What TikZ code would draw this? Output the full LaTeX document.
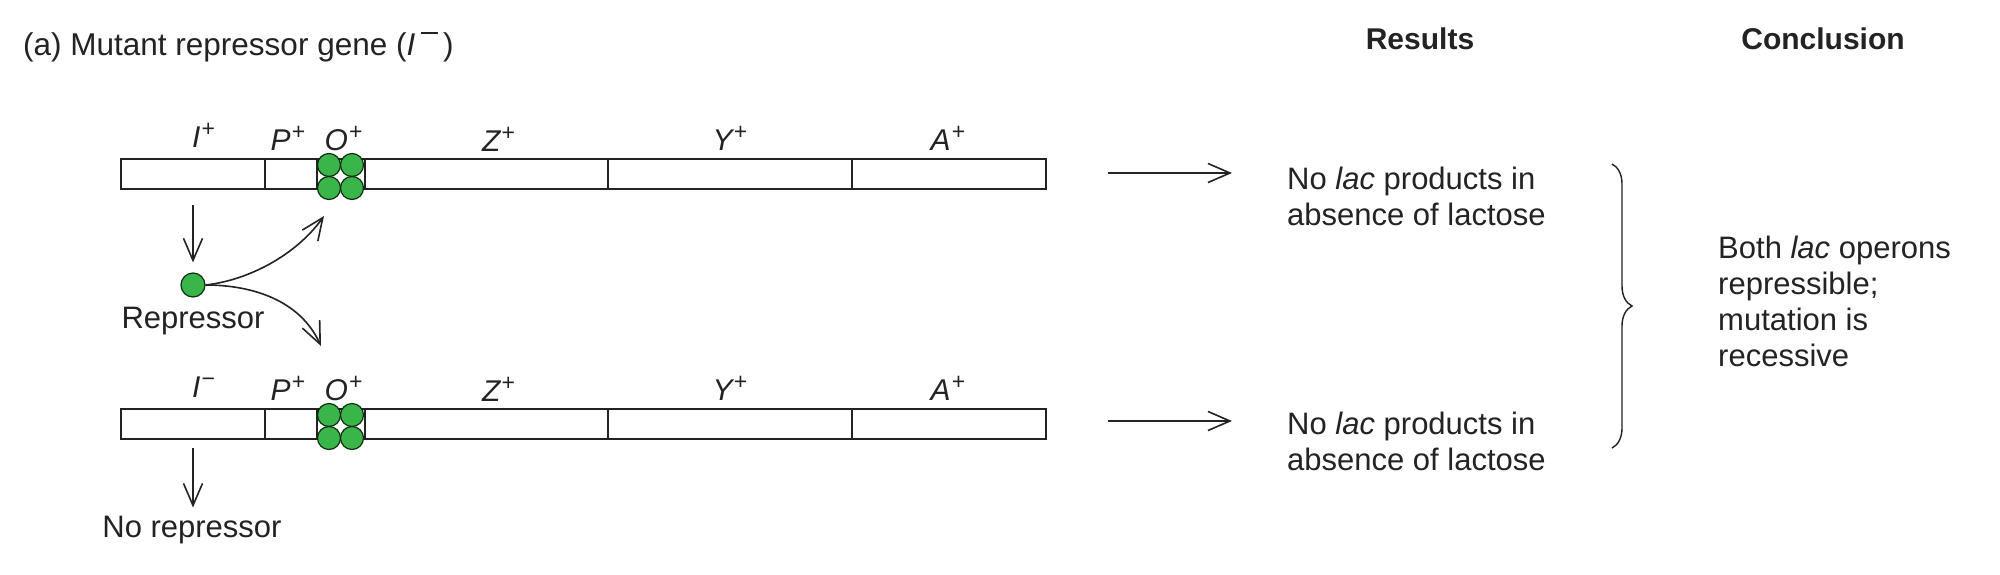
\documentclass[tikz,border=0pt]{standalone}
\usepackage{fontspec}
\setmainfont{Liberation Sans}
\usetikzlibrary{arrows.meta,decorations.pathreplacing}
\definecolor{repgreen}{RGB}{57,181,74}
\definecolor{ink}{RGB}{35,35,35}
\newcommand{\gsup}[1]{\kern0.04em\raisebox{0.36em}{\fontsize{23}{23}\selectfont\upshape #1}}
\begin{document}
\begin{tikzpicture}[x=1pt,y=-1pt,
 seg/.style={draw=ink,line width=1.8pt,fill=white,minimum height=30pt,inner sep=0pt,outer sep=0pt},
 gl/.style={font=\fontsize{30}{32}\selectfont\itshape,text=ink,inner sep=0pt,anchor=base},
 txt/.style={font=\fontsize{31}{36}\selectfont,text=ink,inner sep=0pt},
 hd/.style={font=\fontsize{30}{36}\selectfont\bfseries,text=ink,inner sep=0pt,anchor=base},
 ball/.style={circle,draw=black!75!repgreen,line width=1.2pt,fill=repgreen,minimum size=23pt,inner sep=0pt},
 arr/.style={draw=ink,line width=1.6pt,-{Straight Barb[length=22pt,width=19pt,line width=1.6pt]}},
]
\useasboundingbox[fill=white] (0,0) rectangle (2000,574);
% title and headers
\node[txt,anchor=base west,font=\fontsize{31.5}{36}\selectfont] (title) at (23,55) {(a) Mutant repressor gene (\textit{I}\,\raisebox{0.66em}{\rule{0.55em}{0.075em}}\,)};
\node[hd] (hres) at (1420,49) {Results};
\node[hd] (hcon) at (1823,49) {Conclusion};
% gene bars
\foreach \r/\yy/\isgn in {1/174/+,2/424/−}{
  \node[seg,minimum width=144pt] (I\r) at (193,\yy) {};
  \node[seg,minimum width=52pt] (P\r) at (291,\yy) {};
  \node[seg,minimum width=48pt] (O\r) at (341,\yy) {};
  \node[seg,minimum width=243pt] (Z\r) at (486.5,\yy) {};
  \node[seg,minimum width=244pt] (Y\r) at (730,\yy) {};
  \node[seg,minimum width=194pt] (A\r) at (949,\yy) {};
  \node[ball] (ca\r) at (329,\yy-9) {};
  \node[ball] (cb\r) at (352,\yy-9) {};
  \node[ball] (cc\r) at (329,\yy+14) {};
  \node[ball] (cd\r) at (352,\yy+14) {};
  \node[gl] (lI\r) at (203.5,\yy-27) {I\gsup{\isgn}};
  \node[gl] (lP\r) at (288,\yy-24) {P\gsup{+}};
  \node[gl] (lO\r) at (343.5,\yy-24) {O\gsup{+}};
  \node[gl] (lZ\r) at (498.5,\yy-23) {Z\gsup{+}};
  \node[gl] (lY\r) at (730,\yy-24) {Y\gsup{+}};
  \node[gl] (lA\r) at (948,\yy-24) {A\gsup{+}};
}
% repressor
\node[circle,draw=black!75!repgreen,line width=1.2pt,fill=repgreen,minimum size=24pt,inner sep=0pt] (rep) at (193,285) {};
\node[txt,anchor=base] (replab) at (193,328) {Repressor};
\node[txt,anchor=base] (norep) at (192,537) {No repressor};
\draw[arr,shorten <=16pt,shorten >=10pt] (I1.south) -- (rep.north);
\draw[arr,shorten <=9pt,shorten >=8pt] (I2.south) -- (I2.south |- norep.north);
\coordinate (t1) at (324,216);
\coordinate (t2) at (321,346);
\draw[arr] (rep.east) .. controls (250,280) and (297,254) .. (t1);
\draw[arr] (rep.east) .. controls (252,285) and (300,300) .. (t2);
% results
\coordinate (ra1) at (1108,173);
\coordinate (rb1) at (1232,173);
\coordinate (ra2) at (1108,421);
\coordinate (rb2) at (1232,421);
\draw[arr] (ra1) -- (rb1);
\draw[arr] (ra2) -- (rb2);
\node[txt,anchor=base west] (res1) at (1287,189) {\begin{tabular}[t]{@{}l@{}}No \textit{lac} products in\\absence of lactose\end{tabular}};
\node[txt,anchor=base west] (res2) at (1287,434) {\begin{tabular}[t]{@{}l@{}}No \textit{lac} products in\\absence of lactose\end{tabular}};
% brace
\coordinate (bt) at (1612,164);
\coordinate (bb) at (1612,448);
\draw[draw=ink,line width=1.4pt,decorate,decoration={brace,amplitude=20pt}] (bt) -- (bb);
% conclusion
\node[txt,anchor=base west] (con) at (1718,258) {\begin{tabular}[t]{@{}l@{}}Both \textit{lac} operons\\repressible;\\mutation is\\recessive\end{tabular}};
\end{tikzpicture}
\end{document}
